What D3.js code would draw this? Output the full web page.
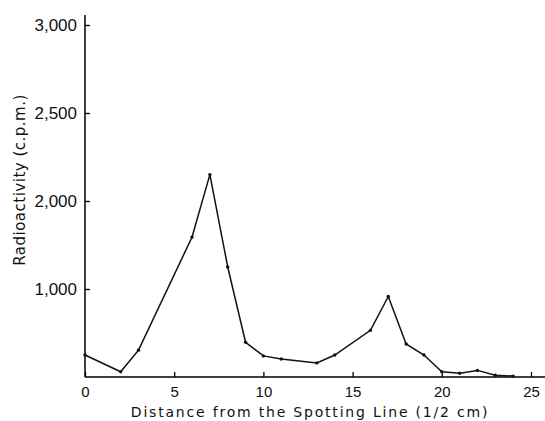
<!DOCTYPE html>
<html>
<head>
<meta charset="utf-8">
<script src="https://cdn.jsdelivr.net/npm/d3@7"></script>
<style>
  body { margin: 0; background: #fff; }
  text { fill: #111; }
</style>
</head>
<body>
<script>
// distance from the spotting line (1/2 cm units) and counts
var distance = [0, 2, 3, 6, 7, 8, 9, 10, 11, 13, 14, 16, 17, 18, 19, 20, 21, 22, 23, 24];
var counts   = [250, 60, 305, 1590, 2150, 1250, 395, 240, 205, 160, 250, 530, 915, 375, 250, 60, 42, 75, 20, 10];
var xTicks = [0, 5, 10, 15, 20, 25];
// the printed axis puts 1,000 one step below 2,000 (same spacing as 2,000-2,500)
var yTicks = [1000, 2000, 2500, 3000];

var width = 545, height = 421;
var left = 85, bottom = 377;

var svg = d3.select("body").append("svg")
    .attr("width", width)
    .attr("height", height);

var x = d3.scaleLinear()
    .domain([0, 25])
    .range([left, 531]);

// piecewise scale to follow the printed tick spacing
var y = d3.scaleLinear()
    .domain([0, 1000, 2000, 3000])
    .range([bottom, 289, 201, 25]);

// x axis
var xAxis = svg.append("g")
    .attr("transform", "translate(0," + bottom + ")")
    .call(d3.axisBottom(x).tickValues(xTicks).tickSize(-5).tickPadding(9).tickFormat(d3.format("d")));
xAxis.select(".domain").attr("d", "M" + left + ",0H" + width).attr("stroke-width", 1.5);
xAxis.selectAll(".tick line").attr("stroke-width", 1.3);
xAxis.selectAll("text")
    .attr("font-family", "Liberation Sans, sans-serif")
    .attr("font-size", 15)
    .attr("fill", "#111");

// y axis
var yAxis = svg.append("g")
    .attr("transform", "translate(" + left + ",0)")
    .call(d3.axisLeft(y).tickValues(yTicks).tickSize(-5).tickPadding(8).tickFormat(d3.format(",")));
yAxis.select(".domain").attr("d", "M0,15V" + bottom).attr("stroke-width", 1.5);
yAxis.selectAll(".tick line").attr("stroke-width", 1.3);
yAxis.selectAll("text")
    .attr("font-family", "Liberation Sans, sans-serif")
    .attr("font-size", 17)
    .attr("fill", "#111");

// the curve
var line = d3.line()
    .x(function(d, i) { return x(distance[i]); })
    .y(function(d) { return y(d); });

svg.append("path")
    .datum(counts)
    .attr("d", line)
    .attr("fill", "none")
    .attr("stroke", "#111")
    .attr("stroke-width", 1.5);

svg.selectAll(".dot")
    .data(counts)
    .enter().append("circle")
    .attr("cx", function(d, i) { return x(distance[i]); })
    .attr("cy", function(d) { return y(d); })
    .attr("r", 1.7)
    .attr("fill", "#111");

// axis titles
svg.append("text")
    .attr("x", 310)
    .attr("y", 417)
    .attr("text-anchor", "middle")
    .attr("font-family", "DejaVu Sans, sans-serif")
    .attr("font-size", 14)
    .attr("letter-spacing", 1.8)
    .text("Distance from the Spotting Line (1/2 cm)");

svg.append("text")
    .attr("transform", "translate(25,180) rotate(-90)")
    .attr("text-anchor", "middle")
    .attr("font-family", "DejaVu Sans, sans-serif")
    .attr("font-size", 15)
    .attr("letter-spacing", 0.5)
    .text("Radioactivity (c.p.m.)");
</script>
</body>
</html>
